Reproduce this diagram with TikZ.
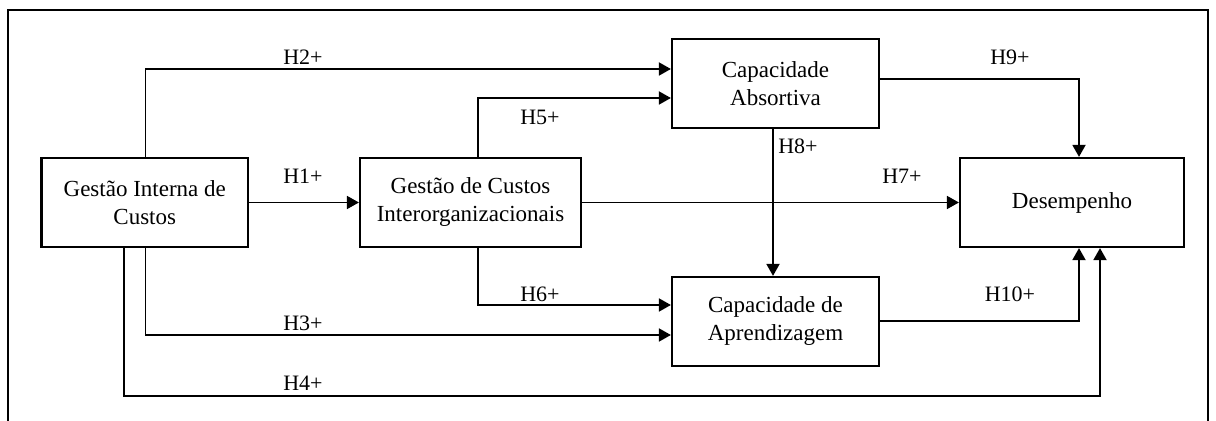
\documentclass[tikz,border=0pt]{standalone}
\usepackage{fontspec}
\setmainfont{Liberation Serif}
\usetikzlibrary{arrows.meta}
\begin{document}
\begin{tikzpicture}[x=0.5pt,y=-0.5pt,
 box/.style={draw,line width=1.1pt,minimum height=44.5pt,align=center,inner sep=0pt,font=\fontsize{11.5}{14}\selectfont},
 conn/.style={line width=0.9pt,-{Triangle[length=6pt,width=6.5pt]}},
 lbl/.style={font=\fontsize{11}{13}\selectfont,inner sep=0pt}]
\useasboundingbox (0,0) rectangle (1216,421);
\draw[line width=1.1pt] (8,421) -- (8,10) -- (1208,10) -- (1208,421);
% boxes
\node[box,minimum width=103.25pt] (gic) at (144.75,202.5) {Gestão Interna de\\Custos};
\node[box,minimum width=110.5pt] (gci) at (470.5,202.5) {Gestão de Custos\\Interorganizacionais};
\node[box,minimum width=103.5pt] (ca) at (775.5,83.5) {Capacidade\\Absortiva};
\node[box,minimum width=103.5pt] (cap) at (775.5,321.5) {Capacidade de\\Aprendizagem};
\node[box,minimum width=112pt] (des) at (1072,202.5) {Desempenho};
% bend points
\coordinate (b2) at (145.5,69);
\coordinate (b5) at (478,98);
\coordinate (b6) at (478,305);
\coordinate (b3) at (145.5,335);
\coordinate (b4a) at (124,396);
\coordinate (b4b) at (1100,396);
\coordinate (b8) at (773,0);
\coordinate (b9) at (1079,79);
\coordinate (b10) at (1079,321);
% connectors
\draw[conn] (gic.east) -- (gci.west);
\draw[conn] (gci.east) -- (des.west);
\draw[conn] (gic.north -| b2) -- (b2) -- (b2 -| ca.west);
\draw[conn] (gci.north -| b5) -- (b5) -- (b5 -| ca.west);
\draw[conn] (gci.south -| b6) -- (b6) -- (b6 -| cap.west);
\draw[conn] (gic.south -| b3) -- (b3) -- (b3 -| cap.west);
\draw[conn] (gic.south -| b4a) -- (b4a) -- (b4b) -- (b4b |- des.south);
\draw[conn] (ca.south -| b8) -- (cap.north -| b8);
\draw[conn] (ca.east |- b9) -- (b9) -- (b9 |- des.north);
\draw[conn] (cap.east |- b10) -- (b10) -- (b10 |- des.south);
% labels
\node[lbl] (l1) at (303,176) {H1+};
\node[lbl] (l2) at (303,57) {H2+};
\node[lbl] (l3) at (303,323) {H3+};
\node[lbl] (l4) at (303,383) {H4+};
\node[lbl] (l5) at (540,117) {H5+};
\node[lbl] (l6) at (540,294) {H6+};
\node[lbl] (l7) at (902,176) {H7+};
\node[lbl] (l8) at (798,146) {H8+};
\node[lbl] (l9) at (1010,57) {H9+};
\node[lbl] (l10) at (1010,294) {H10+};
\end{tikzpicture}
\end{document}
